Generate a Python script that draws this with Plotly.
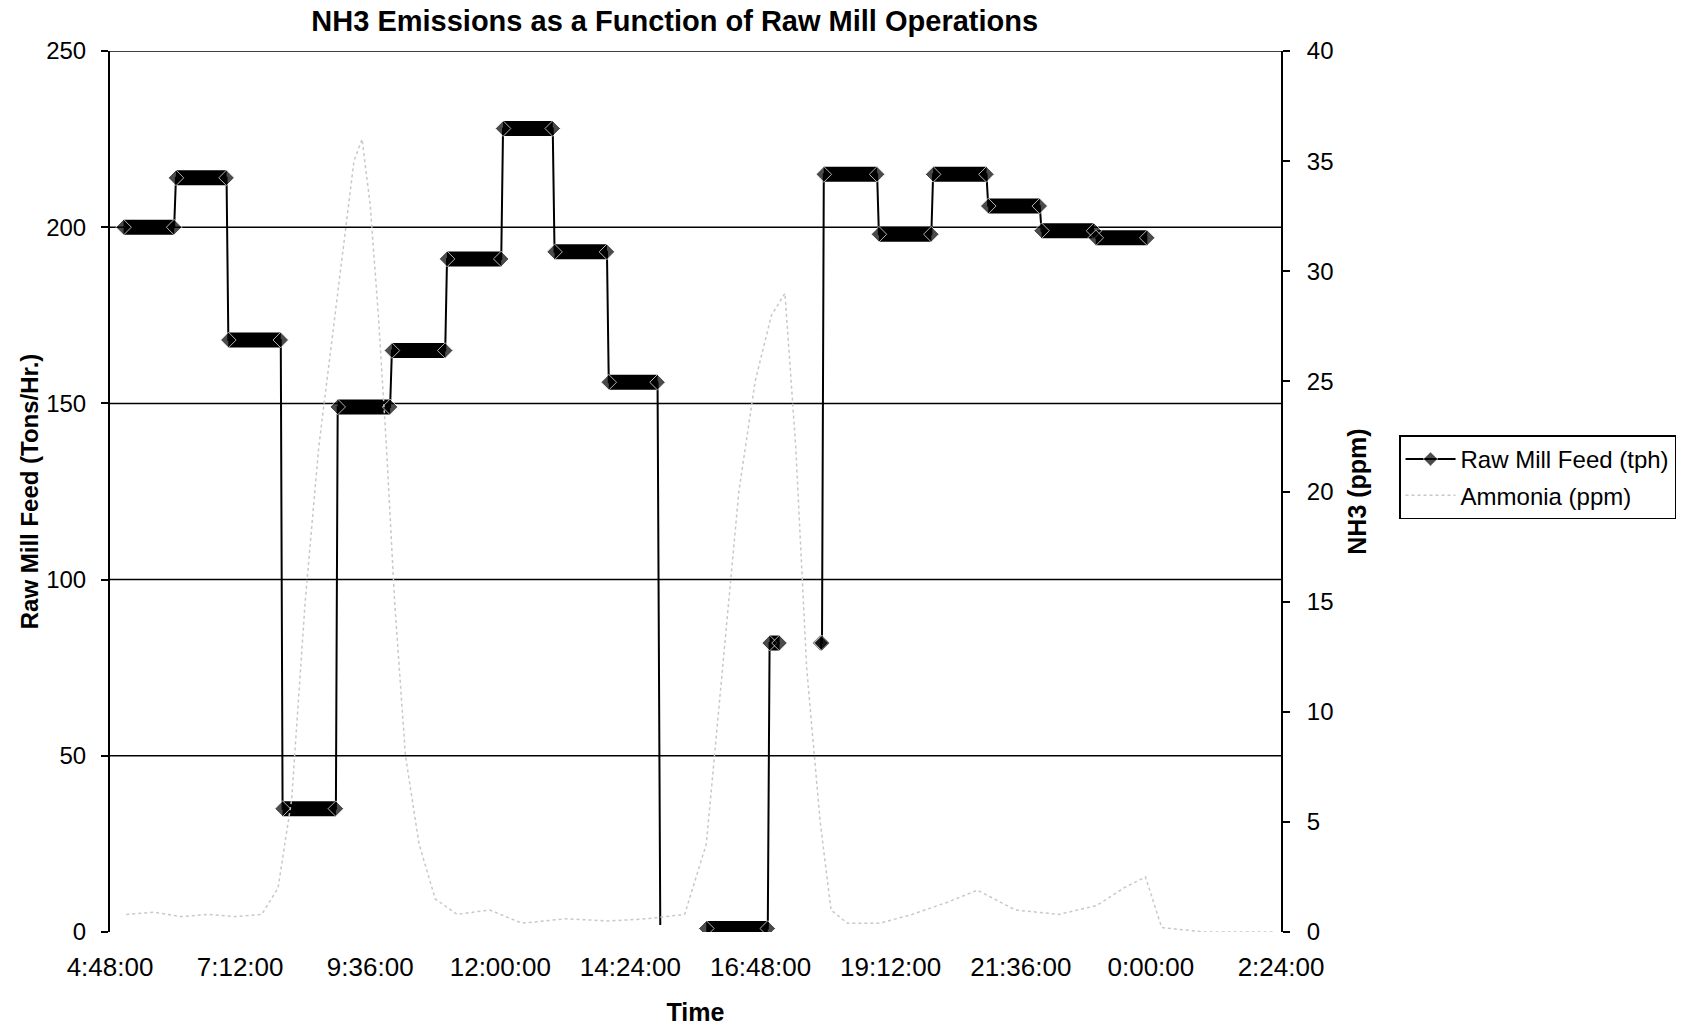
import plotly.graph_objects as go
from datetime import datetime, timedelta

# ---------------- data ----------------
# Raw Mill Feed: flat runs (start time, end time, tph); hh:mm, hours may exceed 24 (next day)
feed_start = ["05:03", "06:01", "06:59", "07:59", "09:00", "10:00", "11:01", "12:03", "13:00", "14:00",
              "14:57", "15:48", "16:58", "17:54", "17:58", "18:59", "19:59", "21:00", "21:59", "22:59"]
feed_end = ["05:59", "06:57", "07:57", "08:58", "09:58", "10:59", "12:01", "12:58", "13:58", "14:54",
            "14:57", "16:56", "17:09", "17:56", "18:57", "19:57", "20:58", "21:57", "22:57", "23:56"]
feed_tph = [200, 214, 168, 35, 149, 165, 191, 228, 193, 156,
            2, 1, 82, 82, 215, 198, 215, 206, 199, 197]
feed_gap_before = [False, False, False, False, False, False, False, False, False, False,
                   False, True, False, True, False, False, False, False, False, False]

# Ammonia (ppm)
nh3_time = ["05:06", "05:36", "06:06", "06:36", "07:06", "07:36", "07:54", "08:09", "08:24", "08:39",
            "08:54", "09:06", "09:18", "09:27", "09:36", "09:45", "09:54", "10:03", "10:15", "10:30",
            "10:48", "11:12", "11:48", "12:24", "13:12", "14:00", "14:42", "15:24", "15:48", "16:06",
            "16:24", "16:42", "17:00", "17:15", "17:27", "17:39", "17:54", "18:06", "18:24", "19:00",
            "19:36", "20:18", "20:48", "21:30", "22:18", "23:00", "23:30", "23:54", "24:12", "25:00",
            "26:18"]
nh3_ppm = [0.8, 0.9, 0.7, 0.8, 0.7, 0.8, 2, 6, 15, 22,
           27, 31, 35, 36, 33, 28, 22, 15, 8, 4,
           1.5, 0.8, 1.0, 0.4, 0.6, 0.5, 0.6, 0.8, 4, 12,
           20, 25, 28, 29, 22, 12, 5, 1, 0.4, 0.4,
           0.8, 1.4, 1.9, 1.0, 0.8, 1.2, 2.0, 2.5, 0.2, 0,
           0]

left_ticks = [0, 50, 100, 150, 200, 250]
right_ticks = [0, 5, 10, 15, 20, 25, 30, 35, 40]

BASE = datetime(2000, 1, 1)


def ts(s):
    h, m = map(int, s.split(":"))
    return (BASE + timedelta(hours=h, minutes=m)).strftime("%Y-%m-%d %H:%M:%S")


# ---------------- build traces ----------------
conn_x, conn_y, conn_size = [], [], []
thick_x, thick_y = [], []
for i, (s, e, v) in enumerate(zip(feed_start, feed_end, feed_tph)):
    if feed_gap_before[i] and conn_x:
        conn_x.append(None); conn_y.append(None); conn_size.append(0)
    if s == e:
        conn_x.append(ts(s)); conn_y.append(v); conn_size.append(0)
        continue
    conn_x += [ts(s), ts(e)]
    conn_y += [v, v]
    conn_size += [12, 12]
    thick_x += [ts(s), ts(e), None]
    thick_y += [v, v, None]

FONT = "Liberation Sans, Arial, sans-serif"

fig = go.Figure()

fig.add_trace(go.Scatter(
    x=[ts(t) for t in nh3_time], y=nh3_ppm, yaxis="y2",
    mode="lines", name="Ammonia (ppm)",
    line=dict(color="#c8c8c8", width=1.5, dash="dot"),
    legendgroup="nh3", legendrank=2,
))
fig.add_trace(go.Scatter(
    x=thick_x, y=thick_y, mode="lines", showlegend=False,
    line=dict(color="black", width=15), hoverinfo="skip",
))
fig.add_trace(go.Scatter(
    x=conn_x, y=conn_y, mode="lines+markers", name="Raw Mill Feed (tph)",
    line=dict(color="black", width=2),
    marker=dict(symbol="diamond", size=conn_size, color="black"),
    connectgaps=False, legendgroup="feed", legendrank=1,
))

shapes = []
for v in left_ticks[1:]:
    shapes.append(dict(type="line", xref="paper", x0=0, x1=1, yref="y", y0=v, y1=v,
                       line=dict(color="black", width=1.5), layer="below"))

fig.update_layout(
    width=1691, height=1029,
    margin=dict(l=110, r=410, t=51, b=97, autoexpand=False),
    paper_bgcolor="white", plot_bgcolor="white",
    font=dict(family=FONT, color="black", size=24),
    title=dict(text="<b>NH3 Emissions as a Function of Raw Mill Operations</b>",
               x=0.399, xanchor="center", y=0.980, yanchor="middle",
               font=dict(size=29, family=FONT, color="black")),
    xaxis=dict(
        type="date", automargin=False,
        range=[ts("04:48"), ts("26:24")],
        tick0=ts("04:48"), dtick=2.4 * 3600 * 1000,
        tickformat="%-H:%M:%S",
        showgrid=False, zeroline=False, showline=False,
        ticks="", ticklabelstandoff=17,
        tickfont=dict(size=26),
        title=dict(text="<b>Time</b>", font=dict(size=25), standoff=22),
    ),
    yaxis=dict(
        range=[0, 250], tickvals=left_ticks, automargin=False,
        showgrid=False, zeroline=False,
        showline=True, linecolor="black", linewidth=2,
        ticks="outside", ticklen=7, tickcolor="black", tickwidth=1.5,
        ticklabelstandoff=10,
        tickfont=dict(size=24),
        title=dict(text="<b>Raw Mill Feed (Tons/Hr.)</b>", font=dict(size=24), standoff=1),
    ),
    yaxis2=dict(
        range=[0, 40], tickvals=right_ticks, overlaying="y", side="right", automargin=False,
        showgrid=False, zeroline=False,
        showline=True, linecolor="black", linewidth=2,
        ticks="outside", ticklen=7, tickcolor="black", tickwidth=1.5,
        ticklabelstandoff=12,
        tickfont=dict(size=24),
        title=dict(text="<b>NH3 (ppm)</b>", font=dict(size=25), standoff=16),
    ),
    legend=dict(
        x=1.1008, xanchor="left", y=0.516, yanchor="middle",
        bgcolor="white", bordercolor="black", borderwidth=1.5,
        font=dict(size=24), itemwidth=50, tracegroupgap=2,
    ),
    shapes=shapes,
    showlegend=True,
)

fig.write_html("out.html")
